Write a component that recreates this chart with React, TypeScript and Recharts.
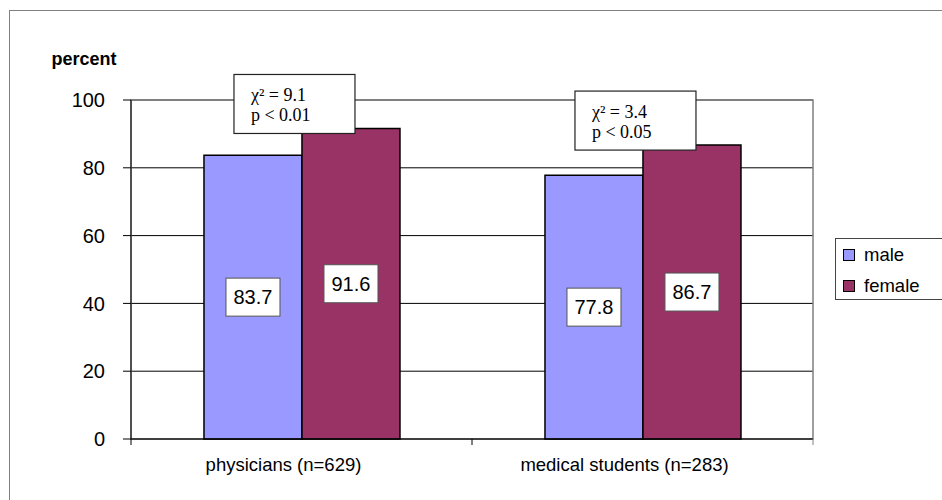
import React from 'react';
import { BarChart, Bar, XAxis, YAxis, CartesianGrid, LabelList, ReferenceArea } from 'recharts';

const categories = ['physicians (n=629)', 'medical students (n=283)'];
const maleValues = [83.7, 77.8];
const femaleValues = [91.6, 86.7];
const chiSquare = ['9.1', '3.4'];
const pValues = ['p < 0.01', 'p < 0.05'];
const yTicks = [0, 20, 40, 60, 80, 100];

const data = categories.map((name, i) => ({ name, male: maleValues[i], female: femaleValues[i] }));

const MALE = '#9999FF';
const FEMALE = '#993366';
const SANS = 'Liberation Sans, Arial, sans-serif';
const SERIF = 'Liberation Serif, Times New Roman, serif';

const legendItems = [
  { label: 'male', color: MALE },
  { label: 'female', color: FEMALE },
];

const ValueBox = (props: any) => {
  const { x, y, width, height, value } = props;
  const cx = x + width / 2;
  const cy = y + height / 2;
  return (
    <g>
      <rect x={cx - 27} y={cy - 19} width={54} height={38} fill="#fff" stroke="#555" strokeWidth={1} />
      <text x={cx} y={cy + 7} textAnchor="middle" fontSize={20} fontFamily={SANS} fill="#000">
        {Number(value).toFixed(1)}
      </text>
    </g>
  );
};

const StatBox = (props: any) => {
  const { x, y, index } = props;
  const left = x - 68;
  const top = y - 54;
  return (
    <g>
      <rect x={left} y={top} width={121} height={59} fill="#fff" stroke="#222" strokeWidth={1.2} />
      <text x={left + 17} y={top + 27} fontSize={18} fontFamily={SERIF} fill="#000">
        {`χ² = ${chiSquare[index]}`}
      </text>
      <text x={left + 17} y={top + 47} fontSize={18} fontFamily={SERIF} fill="#000">
        {pValues[index]}
      </text>
    </g>
  );
};

const CategoryTick = (props: any) => {
  const { x, y, payload, index, visibleTicksCount } = props;
  const off = payload.offset || 0;
  const axisY = y - 5;
  return (
    <g>
      <line x1={x - off} y1={axisY} x2={x - off} y2={axisY + 6} stroke="#000" />
      {index === visibleTicksCount - 1 && (
        <line x1={x + off} y1={axisY} x2={x + off} y2={axisY + 6} stroke="#808080" />
      )}
      <text x={x - 18} y={axisY + 32} textAnchor="middle" fontSize={18.5} fontFamily={SANS} fill="#000">
        {payload.value}
      </text>
    </g>
  );
};

export default function App() {
  return (
    <div style={{ position: 'absolute', left: 0, top: 0, width: 942, height: 500, overflow: 'hidden', background: '#fff' }}>
      <div style={{ position: 'absolute', left: 9, top: 10, width: 960, height: 520, border: '1px solid #808080' }} />
      <div style={{ position: 'absolute', left: 0, top: 0 }}>
        <BarChart
          width={942}
          height={500}
          data={data}
          margin={{ top: 100, right: 129, left: 71, bottom: 31 }}
          barCategoryGap="21.4%"
          barGap={0}
        >
          <CartesianGrid vertical={false} stroke="#000" strokeWidth={1} />
          <ReferenceArea y1={0} y2={100} fill="none" stroke="#808080" strokeWidth={1.5} ifOverflow="visible" />
          <XAxis
            dataKey="name"
            stroke="#000"
            tickLine={false}
            tickSize={5}
            tickMargin={0}
            height={30}
            tick={<CategoryTick />}
          />
          <YAxis
            domain={[0, 100]}
            ticks={yTicks}
            width={60}
            stroke="#000"
            tickSize={8}
            tickMargin={18}
            tick={{ fontSize: 20, fill: '#000', fontFamily: SANS }}
            label={{ value: 'percent', position: 'top', offset: 35, dx: -17, fontSize: 18, fontWeight: 'bold', fill: '#000', fontFamily: SANS }}
          />
          <Bar dataKey="male" name="male" fill={MALE} stroke="#000" strokeWidth={1.5} isAnimationActive={false}>
            <LabelList dataKey="male" content={<ValueBox />} />
          </Bar>
          <Bar dataKey="female" name="female" fill={FEMALE} stroke="#000" strokeWidth={1.5} isAnimationActive={false}>
            <LabelList dataKey="female" content={<ValueBox />} />
            <LabelList dataKey="female" content={<StatBox />} />
          </Bar>
        </BarChart>
      </div>
      <div style={{ position: 'absolute', left: 835, top: 238, width: 120, height: 62, border: '1px solid #444', background: '#fff', fontFamily: SANS, fontSize: 18.5, boxSizing: 'border-box' }}>
        {legendItems.map((it, i) => (
          <div key={it.label} style={{ position: 'absolute', left: 7, top: 6 + i * 31, display: 'flex', alignItems: 'center', lineHeight: '20px' }}>
            <span style={{ display: 'inline-block', width: 10, height: 10, background: it.color, border: '1.5px solid #000', marginRight: 9 }} />
            <span>{it.label}</span>
          </div>
        ))}
      </div>
    </div>
  );
}
